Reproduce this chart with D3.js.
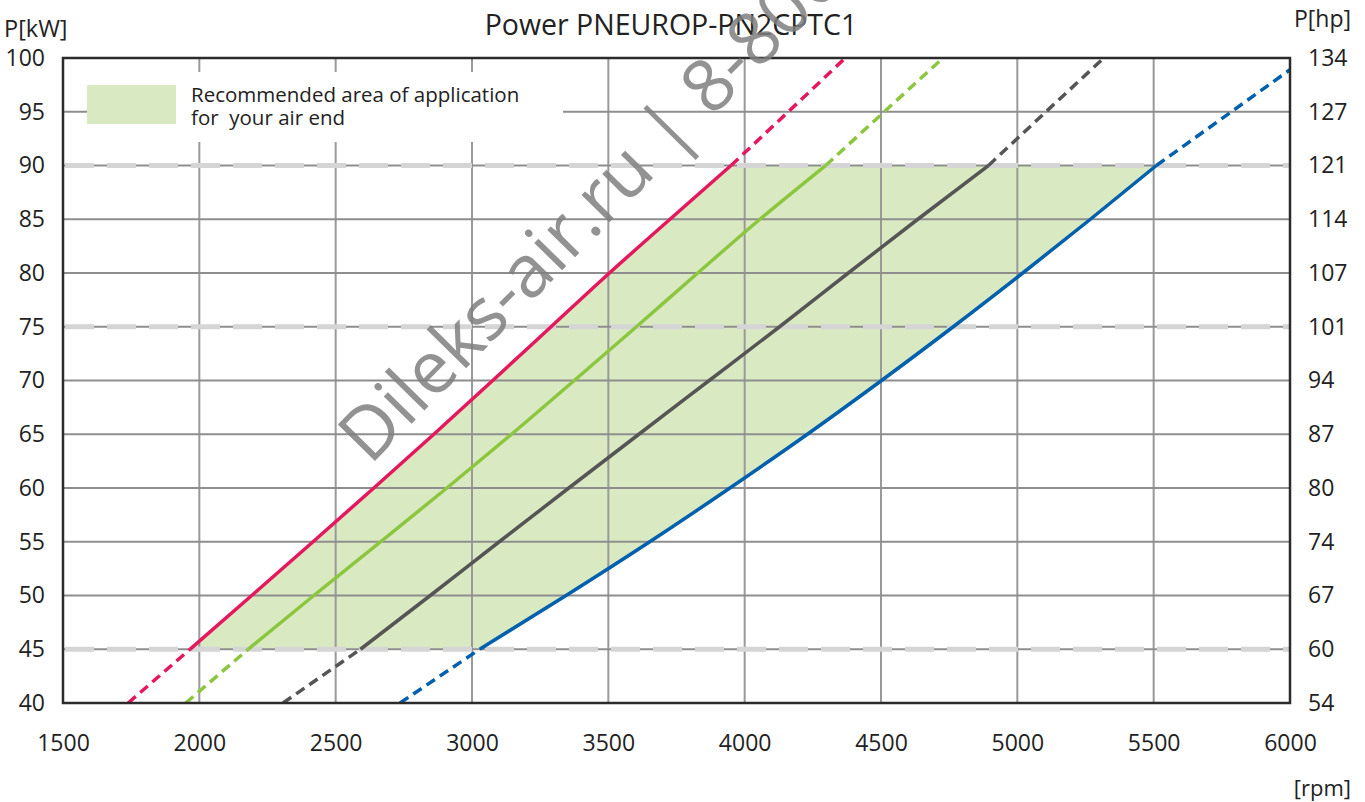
<!DOCTYPE html>
<html>
<head>
<meta charset="utf-8">
<script src="https://cdn.jsdelivr.net/npm/d3@7"></script>
<style>
  body { margin: 0; background: #fff; }
  svg { display: block; font-family: "Open Sans", "Noto Sans", sans-serif; }
</style>
</head>
<body>
<div id="chart"></div>
<script>
// power levels (kW) and the rpm where each curve passes them
const kwLevels = [40, 45, 50, 55, 60, 65, 70, 75, 80, 85, 90, 95, 100];
const rpmRed   = [1739, 1966, 2192, 2417, 2640, 2860, 3076, 3290, 3504, 3726, 3950, 4160, 4369];
const rpmGreen = [1950, 2179, 2420, 2665, 2908, 3145, 3375, 3603, 3828, 4056, 4297, 4512, 4727];
const rpmGray  = [2307, 2591, 2847, 3100, 3355, 3612, 3870, 4128, 4380, 4635, 4894, 5105, 5317];
const rpmBlue  = [2736, 3028, 3345, 3652, 3946, 4230, 4502, 4765, 5020, 5268, 5510, 5785, 6060];

const xTicks = [1500, 2000, 2500, 3000, 3500, 4000, 4500, 5000, 5500, 6000];
const kwTicks = [40, 45, 50, 55, 60, 65, 70, 75, 80, 85, 90, 95, 100];
const hpLabels = ["54", "60", "67", "74", "80", "87", "94", "101", "107", "114", "121", "127", "134"];
const limitRows = [45, 75, 90];
const solidMin = 45, solidMax = 90;

const curves = [
  { rpm: rpmRed, color: "#e5185d" },
  { rpm: rpmGreen, color: "#8cc63e" },
  { rpm: rpmGray, color: "#555555" },
  { rpm: rpmBlue, color: "#0060ad" }
];

const width = 1365, height = 802;
const x = d3.scaleLinear().domain([1500, 6000]).range([63, 1290]);
const y = d3.scaleLinear().domain([40, 100]).range([703, 58]);

const svg = d3.select("#chart").append("svg")
  .attr("width", width)
  .attr("height", height);

svg.append("clipPath").attr("id", "plotclip")
  .append("rect")
  .attr("x", x(1500)).attr("y", y(100))
  .attr("width", x(6000) - x(1500)).attr("height", y(40) - y(100));

const plot = svg.append("g").attr("clip-path", "url(#plotclip)");

// recommended area: red curve up, along 90 kW, blue curve down, along 45 kW
let area = [];
kwLevels.forEach((kw, i) => {
  if (kw >= solidMin && kw <= solidMax) area.push([rpmRed[i], kw]);
});
kwLevels.slice().reverse().forEach((kw, j) => {
  let i = kwLevels.length - 1 - j;
  if (kw >= solidMin && kw <= solidMax) area.push([rpmBlue[i], kw]);
});
plot.append("path")
  .attr("d", d3.line().x(d => x(d[0])).y(d => y(d[1]))(area) + "Z")
  .attr("fill", "#d9eac3");

// grid
plot.selectAll(".vgrid")
  .data(xTicks.slice(1, -1))
  .join("line")
  .attr("x1", d => x(d)).attr("x2", d => x(d))
  .attr("y1", y(100)).attr("y2", y(40))
  .attr("stroke", "#999")
  .attr("stroke-width", 2);

plot.selectAll(".hgrid")
  .data(kwTicks.slice(1, -1))
  .join("line")
  .attr("x1", x(1500)).attr("x2", x(6000))
  .attr("y1", d => y(d)).attr("y2", d => y(d))
  .attr("stroke", "#8e8e8e")
  .attr("stroke-width", 2);

plot.selectAll(".limit")
  .data(limitRows)
  .join("line")
  .attr("x1", x(1500) + 2).attr("x2", x(6000))
  .attr("y1", d => y(d)).attr("y2", d => y(d))
  .attr("stroke", "#d5d5d5")
  .attr("stroke-width", 5)
  .attr("stroke-dasharray", "29 13");

// curves: dashed outside 45..90 kW, solid inside
const line = d3.line().x(d => x(d[0])).y(d => y(d[1])).curve(d3.curveMonotoneY);
curves.forEach(c => {
  let pts = kwLevels.map((kw, i) => [c.rpm[i], kw]);
  let low = pts.filter(p => p[1] <= solidMin);
  let mid = pts.filter(p => p[1] >= solidMin && p[1] <= solidMax);
  let high = pts.filter(p => p[1] >= solidMax);
  [low, high].forEach(seg => {
    plot.append("path")
      .attr("d", line(seg))
      .attr("fill", "none")
      .attr("stroke", c.color)
      .attr("stroke-width", 3.5)
      .attr("stroke-dasharray", "10 6");
  });
  plot.append("path")
    .attr("d", line(mid))
    .attr("fill", "none")
    .attr("stroke", c.color)
    .attr("stroke-width", 3.5);
});

// frame
svg.append("rect")
  .attr("x", x(1500)).attr("y", y(100))
  .attr("width", x(6000) - x(1500)).attr("height", y(40) - y(100))
  .attr("fill", "none")
  .attr("stroke", "#2b2b2b")
  .attr("stroke-width", 2.5);

// axes
const tickStyle = g => {
  g.select(".domain").remove();
  g.selectAll("text").attr("font-size", 23).attr("fill", "#222")
    .attr("font-family", "'Open Sans', sans-serif");
};
svg.append("g")
  .attr("transform", `translate(${x(1500)},0)`)
  .call(d3.axisLeft(y).tickValues(kwTicks).tickSize(0).tickPadding(18))
  .call(tickStyle);
svg.append("g")
  .attr("transform", `translate(${x(6000)},0)`)
  .call(d3.axisRight(y).tickValues(kwTicks).tickSize(0).tickPadding(18)
    .tickFormat((d, i) => hpLabels[i]))
  .call(tickStyle);
svg.append("g")
  .attr("transform", `translate(0,${y(40)})`)
  .call(d3.axisBottom(x).tickValues(xTicks).tickSize(0).tickPadding(32)
    .tickFormat(d3.format("d")))
  .call(tickStyle);

const label = (tx, ty, txt, anchor, size) => svg.append("text")
  .attr("x", tx).attr("y", ty)
  .attr("text-anchor", anchor)
  .attr("font-size", size)
  .attr("fill", "#222")
  .text(txt);

label(4, 37, "P[kW]", "start", 23.5);
label(1351, 27, "P[hp]", "end", 23);
label(1351, 796, "[rpm]", "end", 22);
label(671, 35, "Power PNEUROP-PN2CPTC1", "middle", 28.5);

// legend
svg.append("rect")
  .attr("x", 87).attr("y", 72).attr("width", 476).attr("height", 70)
  .attr("fill", "#fff");
svg.append("rect")
  .attr("x", 87).attr("y", 85).attr("width", 89).attr("height", 39)
  .attr("fill", "#d9eac3");
label(191, 102, "Recommended area of application", "start", 20.5);
label(191, 125, "for  your air end", "start", 20.5).style("white-space", "pre");

// watermark
svg.append("text")
  .attr("transform", "translate(370,466) rotate(-45.5)")
  .attr("font-size", 73)
  .attr("fill", "#7f7f7f")
  .attr("fill-opacity", 0.85)
  .text("Dileks-air.ru | 8-800");
</script>
</body>
</html>
